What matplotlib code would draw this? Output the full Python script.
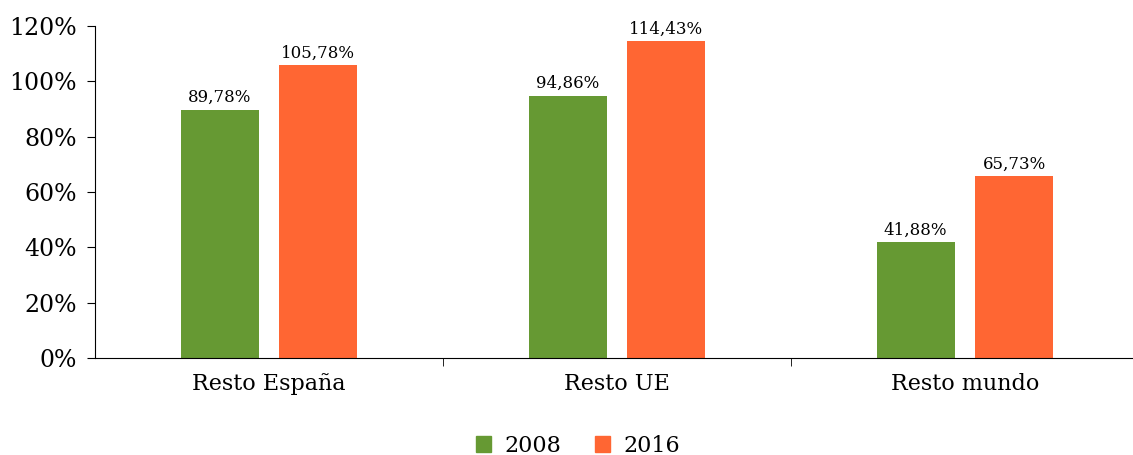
import matplotlib.pyplot as plt
import numpy as np
from matplotlib.patches import Patch

categories = ['Resto España', 'Resto UE', 'Resto mundo']
years = ['2008', '2016']
vals_2008 = [89.78, 94.86, 41.88]
vals_2016 = [105.78, 114.43, 65.73]
colors = ['#669933', '#FF6633']

plt.rcParams['font.family'] = ['DejaVu Serif']

fig = plt.figure(figsize=(11.33, 4.55), dpi=100)
ax = fig.add_axes([95 / 1133, 97 / 455, 1 - 95 / 1133, 332 / 455])

x = np.arange(len(categories))
w = 0.224
off = 0.142
series = [vals_2008, vals_2016]
for i, vals in enumerate(series):
    pos = x + (off if i else -off)
    bars = ax.bar(pos, vals, width=w, color=colors[i])
    for b, v in zip(bars, vals):
        ax.text(b.get_x() + b.get_width() / 2, v + 1.3,
                f'{v:.2f}%'.replace('.', ','),
                ha='center', va='bottom', fontsize=12)

ax.set_ylim(0, 120)
ax.set_yticks(range(0, 121, 20))
ax.set_yticklabels([f'{t}%' for t in range(0, 121, 20)], fontsize=17)
ax.set_xlim(-0.5, -0.5 + (1133 - 95) / 348)
ax.set_xticks(x)
ax.set_xticklabels(categories, fontsize=16)
ax.tick_params(axis='x', which='major', length=0, pad=11)
ax.set_xticks([0.5, 1.5], minor=True)
ax.tick_params(axis='x', which='minor', length=6, direction='out')
ax.tick_params(axis='y', length=6, direction='out', pad=7)

for s in ['top', 'right']:
    ax.spines[s].set_visible(False)

handles = [Patch(color=c) for c in colors]
fig.legend(handles, years, loc='center', ncol=2, frameon=False,
           fontsize=16, bbox_to_anchor=(0.51, 9 / 455),
           handlelength=0.7, handleheight=0.7, handletextpad=0.6,
           columnspacing=1.5)

fig.savefig('out.png', dpi=100)
